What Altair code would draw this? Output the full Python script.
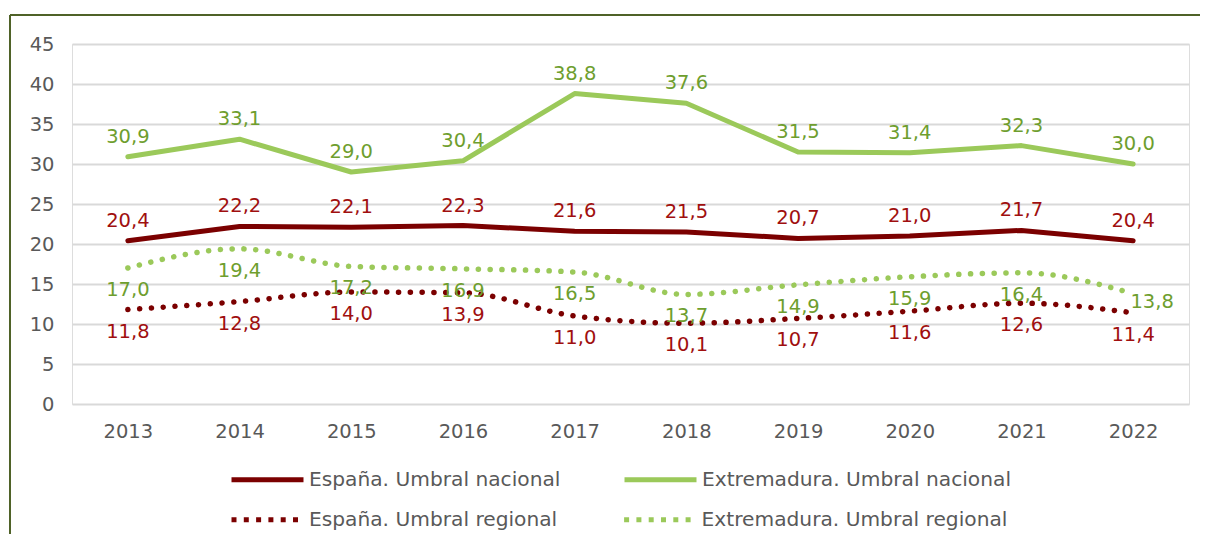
import altair as alt
import pandas as pd

years = ["2013", "2014", "2015", "2016", "2017", "2018", "2019", "2020", "2021", "2022"]
esp_nac = [20.4, 22.2, 22.1, 22.3, 21.6, 21.5, 20.7, 21.0, 21.7, 20.4]
ext_nac = [30.9, 33.1, 29.0, 30.4, 38.8, 37.6, 31.5, 31.4, 32.3, 30.0]
esp_reg = [11.8, 12.8, 14.0, 13.9, 11.0, 10.1, 10.7, 11.6, 12.6, 11.4]
ext_reg = [17.0, 19.4, 17.2, 16.9, 16.5, 13.7, 14.9, 15.9, 16.4, 13.8]

nac_names = ["España. Umbral nacional", "Extremadura. Umbral nacional"]
reg_names = ["España. Umbral regional", "Extremadura. Umbral regional"]
dark_red = "#7B0000"
light_green = "#9BC95A"
label_red = "#A00F0F"
label_green = "#6E9E2E"

rows = []
for name, vals, kind in [
    (nac_names[0], esp_nac, "nac"),
    (nac_names[1], ext_nac, "nac"),
    (reg_names[0], esp_reg, "reg"),
    (reg_names[1], ext_reg, "reg"),
]:
    for y, v in zip(years, vals):
        rows.append({"year": y, "value": v, "serie": name, "kind": kind,
                     "label": f"{v:.1f}".replace(".", ",")})
df = pd.DataFrame(rows)

FONT = "DejaVu Sans"
FS = 19.5
LEG_FS = 20.2

x = alt.X("year:O", title=None,
          scale=alt.Scale(type="point", padding=0.5),
          axis=alt.Axis(labelAngle=0, ticks=False, domain=False, grid=False,
                        labelPadding=18, labelColor="#595959",
                        labelFont=FONT, labelFontSize=FS))
y = alt.Y("value:Q", title=None,
          scale=alt.Scale(domain=[0, 45], nice=False),
          axis=alt.Axis(values=list(range(0, 50, 5)), ticks=False, domain=False,
                        gridColor="#D9D9D9", gridWidth=2, labelPadding=18,
                        labelColor="#595959", labelFont=FONT, labelFontSize=FS))

# legend symbol paths (unit = sqrt(size)/2 px)
line_path = "M-1,0L6.2,0"
half = 0.25
dot_centers = [-0.75, 0.48, 1.71, 2.94, 4.17, 5.4]
dots_path = "".join(f"M{c - half:.3f},0L{c + half:.3f},0" for c in dot_centers)

leg_common = dict(orient="none", direction="horizontal", columns=2,
                  symbolSize=400, symbolStrokeWidth=5, labelOffset=55,
                  labelFont=FONT, labelFontSize=LEG_FS, labelColor="#595959",
                  labelLimit=400, padding=0, symbolDash=[1, 0], title=None)

color = alt.Color("serie:N", title=None,
                  scale=alt.Scale(domain=nac_names, range=[dark_red, light_green]),
                  legend=alt.Legend(legendX=157, legendY=423, columnPadding=53,
                                    symbolType=line_path, **leg_common))
stroke = alt.Stroke("serie:N", title=None,
                    scale=alt.Scale(domain=reg_names, range=[dark_red, light_green]),
                    legend=alt.Legend(legendX=157, legendY=463, columnPadding=55.6,
                                      symbolType=dots_path, **leg_common))

base = alt.Chart(df)

solid = base.transform_filter(alt.datum.kind == "nac").mark_line(
    strokeWidth=5, strokeCap="round", strokeJoin="round"
).encode(x=x, y=y, color=color)

dotted = base.transform_filter(alt.datum.kind == "reg").mark_line(
    strokeWidth=5.5, strokeCap="round", interpolate="monotone",
    strokeDash=[0.1, 11.7]
).encode(x=x, y=y, stroke=stroke)


def labels(filt, dx, dy, col):
    return base.transform_filter(filt).mark_text(
        font=FONT, fontSize=FS, dx=dx, dy=dy, baseline="middle", align="center",
        color=col
    ).encode(x=x, y=y, text="label:N")


lab_nac_esp = labels(alt.datum.serie == nac_names[0], 0, -20, label_red)
lab_nac_ext = labels(alt.datum.serie == nac_names[1], 0, -20, label_green)
lab_reg_esp = labels(alt.datum.serie == reg_names[0], 0, 22, label_red)
lab_reg_ext = labels((alt.datum.serie == reg_names[1]) & (alt.datum.year != "2022"),
                     0, 22, label_green)
lab_reg_ext_last = labels((alt.datum.serie == reg_names[1]) & (alt.datum.year == "2022"),
                          19, 8, label_green)

frame_top = alt.Chart(pd.DataFrame({"a": [0]})).mark_rule(
    color="#4F6228", strokeWidth=2
).encode(x=alt.value(-62), x2=alt.value(1128), y=alt.value(-29))
frame_left = alt.Chart(pd.DataFrame({"a": [0]})).mark_rule(
    color="#4F6228", strokeWidth=2
).encode(x=alt.value(-62), y=alt.value(-29), y2=alt.value(490))

chart = alt.layer(
    frame_top, frame_left, solid, dotted,
    lab_nac_esp, lab_nac_ext, lab_reg_esp, lab_reg_ext, lab_reg_ext_last
).properties(
    width=1117, height=360,
    padding={"left": 1, "top": 6, "right": 0, "bottom": 0}
).configure_view(stroke=None).configure(background="white")

chart.save("out.html", embed_options={"renderer": "svg", "actions": False})
